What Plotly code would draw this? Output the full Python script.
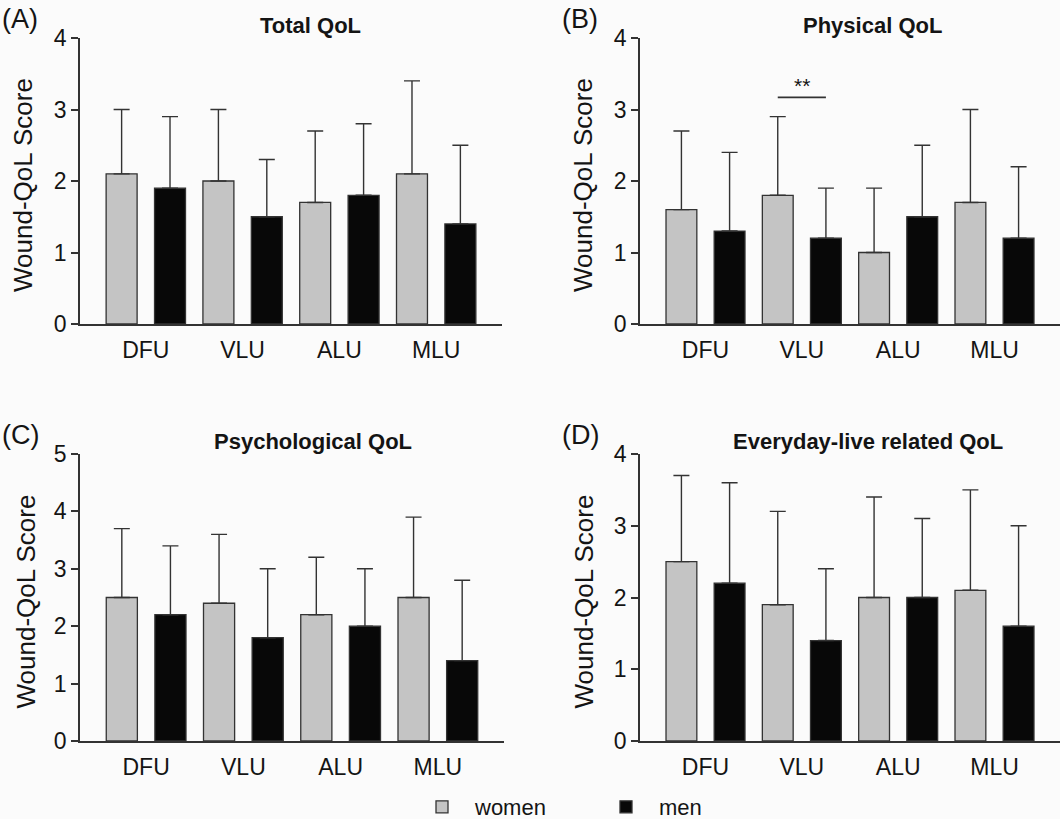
import plotly.graph_objects as go

categories = ["DFU", "VLU", "ALU", "MLU"]

panels = ["(A)", "(B)", "(C)", "(D)"]
titles = ["Total QoL", "Physical QoL", "Psychological QoL", "Everyday-live related QoL"]
y_title = "Wound-QoL Score"
y_max = [4, 4, 5, 4]

women_mean = [
    [2.1, 2.0, 1.7, 2.1],
    [1.6, 1.8, 1.0, 1.7],
    [2.5, 2.4, 2.2, 2.5],
    [2.5, 1.9, 2.0, 2.1],
]
women_sd = [
    [0.9, 1.0, 1.0, 1.3],
    [1.1, 1.1, 0.9, 1.3],
    [1.2, 1.2, 1.0, 1.4],
    [1.2, 1.3, 1.4, 1.4],
]
men_mean = [
    [1.9, 1.5, 1.8, 1.4],
    [1.3, 1.2, 1.5, 1.2],
    [2.2, 1.8, 2.0, 1.4],
    [2.2, 1.4, 2.0, 1.6],
]
men_sd = [
    [1.0, 0.8, 1.0, 1.1],
    [1.1, 0.7, 1.0, 1.0],
    [1.2, 1.2, 1.0, 1.4],
    [1.4, 1.0, 1.1, 1.4],
]

# significance marker (panel B, VLU)
sig_panel = 1
sig_cat = "VLU"
sig_level = 3.17
sig_text = "**"

W, H = 1060, 819
FONT = "Liberation Sans, Arial, sans-serif"
TXT = "#141414"
WOMEN_COLOR = "#c4c4c4"
MEN_COLOR = "#080808"
LINE = "#333333"


def px(x):
    return x / W


def py(y):
    return 1 - y / H


# pixel layout of each panel (left, right, top, bottom)
boxes = [
    (80, 502, 38, 324),
    (640, 1060, 38, 324),
    (80, 504, 454, 741),
    (640, 1060, 454, 741),
]
title_cx = [310, 872, 313, 868]
label_x = [0, 560, 0, 560]
ytitle_x = [23, 583, 25, 583]

fig = go.Figure()
xr = [-0.68, len(categories) - 1 + 0.68]
xpos = list(range(len(categories)))

for i in range(4):
    xa = "x" if i == 0 else f"x{i+1}"
    ya = "y" if i == 0 else f"y{i+1}"
    fig.add_trace(go.Bar(
        x=xpos, y=women_mean[i], name="women", legendgroup="women",
        showlegend=(i == 0), xaxis=xa, yaxis=ya, offsetgroup="w",
        marker=dict(color=WOMEN_COLOR, line=dict(color=LINE, width=1.3)),
        error_y=dict(type="data", array=women_sd[i], arrayminus=[0] * 4,
                     symmetric=False, color=LINE, thickness=1.4, width=8),
    ))
    fig.add_trace(go.Bar(
        x=xpos, y=men_mean[i], name="men", legendgroup="men",
        showlegend=(i == 0), xaxis=xa, yaxis=ya, offsetgroup="m",
        marker=dict(color=MEN_COLOR, line=dict(color=LINE, width=1.3)),
        error_y=dict(type="data", array=men_sd[i], arrayminus=[0] * 4,
                     symmetric=False, color=LINE, thickness=1.4, width=8),
    ))
    l, r, t, b = boxes[i]
    xkey = "xaxis" if i == 0 else f"xaxis{i+1}"
    ykey = "yaxis" if i == 0 else f"yaxis{i+1}"
    fig.layout[xkey] = dict(
        domain=[px(l), min(px(r), 1.0)], range=xr, anchor=ya, automargin=False,
        tickvals=xpos, ticktext=categories, showgrid=False, zeroline=False,
        showline=True, linecolor=LINE, linewidth=1.5, ticks="",
        tickfont=dict(size=23, color=TXT, family=FONT), fixedrange=True,
        ticklabelstandoff=5,
    )
    fig.layout[ykey] = dict(
        domain=[py(b), py(t)], range=[0, y_max[i]], anchor=xa,
        automargin=False,
        dtick=1, showgrid=False, zeroline=False, showline=True,
        linecolor=LINE, linewidth=1.5, ticks="outside", ticklen=7,
        tickwidth=1.5, tickcolor=LINE, ticklabelstandoff=0,
        tickfont=dict(size=23, color=TXT, family=FONT),
        fixedrange=True,
    )
    # y-axis title
    fig.add_annotation(
        x=px(ytitle_x[i]), y=py((t + b) / 2 + 4), xref="paper", yref="paper",
        text=y_title, textangle=-90, showarrow=False,
        xanchor="center", yanchor="middle",
        font=dict(size=26, color=TXT, family=FONT),
    )
    # panel title
    fig.add_annotation(
        x=px(title_cx[i]), y=py(t - 13), xref="paper", yref="paper",
        text=f"<b>{titles[i]}</b>", showarrow=False, xanchor="center", yanchor="middle",
        font=dict(size=22, color=TXT, family=FONT),
    )
    # panel letter
    fig.add_annotation(
        x=px(label_x[i]), y=py(t - 19), xref="paper", yref="paper",
        text=panels[i], showarrow=False, xanchor="left", yanchor="middle",
        font=dict(size=27, color=TXT, family=FONT),
    )

# significance bracket
k = categories.index(sig_cat)
sx = "x" if sig_panel == 0 else f"x{sig_panel+1}"
sy = "y" if sig_panel == 0 else f"y{sig_panel+1}"
fig.add_shape(type="line", xref=sx, yref=sy, x0=k - 0.25, x1=k + 0.25,
              y0=sig_level, y1=sig_level, line=dict(color=LINE, width=1.6))
fig.add_annotation(x=k, y=sig_level, xref=sx, yref=sy, text=sig_text, showarrow=False,
                   yanchor="bottom", yshift=-2, font=dict(size=21, color=TXT, family=FONT))

fig.update_layout(
    width=W, height=H, autosize=False,
    margin=dict(l=0, r=0, t=0, b=0, autoexpand=False),
    paper_bgcolor="#fbfbfb", plot_bgcolor="#fbfbfb",
    barmode="group", bargap=0.0, bargroupgap=0.36,
    showlegend=True,
    legend=dict(orientation="h", x=px(409), y=py(807), xanchor="left", yanchor="middle",
                font=dict(size=22, color=TXT, family=FONT), itemwidth=56,
                entrywidth=113, entrywidthmode="pixels", bgcolor="rgba(0,0,0,0)",
                traceorder="normal"),
    font=dict(family=FONT),
)

fig.write_html(
    "out.html",
    config={"displayModeBar": False},
    post_script="document.body.style.margin='0px';document.body.style.overflow='hidden';",
)
